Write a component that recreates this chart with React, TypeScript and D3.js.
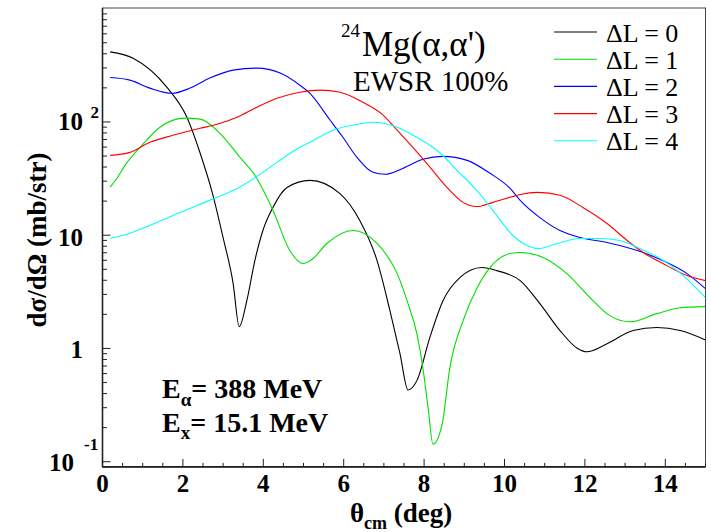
import React from "react";
import * as d3 from "d3";

// Angular distributions for 24Mg(α,α') at Eα = 388 MeV, Ex = 15.1 MeV
const thetaL0 = [0.19, 0.76, 1.6, 2.1, 2.43, 2.75, 3.0, 3.25, 3.4, 3.59, 3.79, 3.99, 4.24, 4.59, 5.16, 5.9, 6.4, 6.83, 7.15, 7.4, 7.6, 7.82, 8.14, 8.47, 8.89, 9.44, 9.81, 10.39, 10.88, 11.38, 11.8, 12.05, 12.55, 13.2, 13.79, 14.37, 15.0];
const sigmaL0 = [416, 366, 203, 110, 52.9, 22.4, 9.5, 3.74, 1.56, 2.64, 5.97, 11.0, 17.6, 26.4, 30.5, 23.4, 13.5, 5.97, 2.16, 0.9, 0.43, 0.52, 1.24, 2.64, 4.22, 5.18, 4.87, 3.97, 2.49, 1.44, 1.01, 0.935, 1.1, 1.44, 1.53, 1.44, 1.19];

const thetaL1 = [0.19, 0.36, 0.56, 0.98, 1.43, 2.05, 2.43, 2.92, 3.42, 3.79, 4.24, 4.66, 4.99, 5.21, 5.58, 6.23, 6.83, 7.33, 7.6, 7.82, 7.97, 8.1, 8.22, 8.45, 8.64, 8.97, 9.32, 9.64, 10.14, 10.39, 10.96, 11.55, 12.2, 12.62, 13.12, 13.79, 14.37, 15.0];
const sigmaL1 = [26.6, 31.8, 41.4, 62.2, 89.8, 108, 106, 79.4, 48.7, 33.8, 16.6, 7.33, 5.62, 6.1, 8.45, 11.0, 8.45, 4.58, 2.49, 1.35, 0.675, 0.299, 0.143, 0.216, 0.675, 1.76, 3.44, 5.18, 6.89, 7.03, 6.35, 4.58, 2.64, 1.95, 1.72, 2.03, 2.29, 2.34];

const thetaL2 = [0.19, 0.68, 1.18, 1.73, 2.18, 2.67, 3.25, 3.84, 4.42, 4.91, 5.16, 5.66, 5.98, 6.33, 6.73, 7.03, 7.47, 7.97, 8.47, 9.07, 9.64, 10.14, 10.39, 10.88, 11.38, 11.88, 12.55, 13.05, 13.45, 14.04, 14.54, 15.0];
const sigmaL2 = [247, 234, 199, 179, 199, 244, 287, 299, 270, 211, 179, 104, 73.2, 48.7, 35.9, 34.5, 38.9, 46.8, 49.7, 45.8, 35.2, 25.9, 20.3, 14.3, 11.0, 9.55, 8.62, 7.79, 7.03, 5.73, 4.58, 3.37];

const thetaL3 = [0.19, 0.68, 1.18, 1.75, 2.43, 2.85, 3.35, 3.84, 4.34, 4.91, 5.41, 5.91, 6.48, 6.98, 7.33, 7.72, 8.15, 8.57, 8.97, 9.31, 9.71, 10.14, 10.39, 10.83, 11.38, 11.95, 12.55, 13.05, 13.45, 13.94, 14.54, 15.0];
const sigmaL3 = [50.7, 53.9, 66.1, 76.2, 87.9, 95.4, 110, 135, 162, 183, 191, 183, 149, 115, 84.5, 59.7, 39.7, 26.4, 19.5, 17.9, 19.5, 21.6, 22.9, 23.9, 22.5, 17.6, 12.7, 8.98, 7.03, 5.62, 4.4, 3.97];

const thetaL4 = [0.19, 0.68, 1.18, 1.75, 2.35, 2.85, 3.35, 3.84, 4.34, 4.91, 5.16, 5.73, 6.33, 6.73, 7.33, 7.82, 8.32, 8.82, 9.31, 9.71, 10.21, 10.56, 10.83, 11.31, 11.88, 12.38, 12.87, 13.37, 13.87, 14.36, 15.0];
const sigmaL4 = [9.35, 10.4, 12.2, 14.9, 18.3, 21.6, 25.9, 33.0, 44.0, 59.7, 66.1, 84.5, 95.4, 99.4, 89.8, 73.2, 56.2, 37.4, 24.9, 16.6, 9.94, 8.11, 7.62, 8.45, 9.35, 9.35, 8.98, 7.62, 6.22, 4.68, 2.81];

const seriesNames = ["ΔL = 0", "ΔL = 1", "ΔL = 2", "ΔL = 3", "ΔL = 4"];
const seriesColors = ["#000000", "#00e000", "#0000ff", "#ff0000", "#00ffff"];
const seriesTheta = [thetaL0, thetaL1, thetaL2, thetaL3, thetaL4];
const seriesSigma = [sigmaL0, sigmaL1, sigmaL2, sigmaL3, sigmaL4];

const xTickValues = [0, 2, 4, 6, 8, 10, 12, 14];

const W = 711;
const H = 532;
const left = 102.5;
const right = 705.5;
const top = 8.7;
const bottom = 466.9;

const FAM = "Liberation Serif";

function T(props: any) {
  const { bold, children, ...rest } = props;
  return (
    <text
      {...rest}
      fontFamily={FAM}
      fontWeight={bold ? "bold" : "normal"}
      style={{ fontFamily: '"Liberation Serif"', fontWeight: bold ? 700 : 400 }}
    >
      {children}
    </text>
  );
}

export default function App() {
  const x = d3.scaleLinear().domain([0, 15]).range([left, right]);
  const y = d3.scaleLog().domain([0.09, 1000]).range([bottom, top]);

  const line = d3
    .line<[number, number]>()
    .x((d) => x(d[0]))
    .y((d) => y(d[1]))
    .curve(d3.curveMonotoneX);

  // minor / major ticks on the log axis
  const yTicks: { v: number; major: boolean }[] = [];
  for (let e = -2; e <= 2; e++) {
    for (let m = 1; m <= 9; m++) {
      const v = m * Math.pow(10, e);
      if (v >= 0.09 && v <= 1000) yTicks.push({ v, major: m === 1 });
    }
  }
  const xTicks: { v: number; major: boolean }[] = [];
  for (let i = 0; i <= 30; i++) {
    xTicks.push({ v: i * 0.5, major: i % 4 === 0 });
  }

  const legendX0 = 554;
  const legendX1 = 597;
  const legendY0 = 32;
  const legendDy = 27.2;

  return (
    <svg width={W} height={H} style={{ position: "absolute", left: 0, top: 0, background: "#fff" }}>
      <defs>
        <clipPath id="plotArea">
          <rect x={left} y={top - 2} width={right - left} height={bottom - top + 2} />
        </clipPath>
      </defs>

      {/* frame */}
      <rect x={left} y={top - 0.7} width={right - left} height={bottom - top + 0.7} fill="none" stroke="#444" strokeWidth={1} />

      {/* curves */}
      <g clipPath="url(#plotArea)">
        {seriesTheta.map((th, i) => (
          <path
            key={i}
            d={line(th.map((t, j) => [t, seriesSigma[i][j]] as [number, number])) || ""}
            fill="none"
            stroke={seriesColors[i]}
            strokeWidth={1.1}
          />
        ))}
      </g>

      {/* axes */}
      <line x1={left} x2={left} y1={top - 0.7} y2={bottom} stroke="#222" strokeWidth={1.6} />
      <line x1={left} x2={right} y1={bottom} y2={bottom} stroke="#222" strokeWidth={1.6} />

      {yTicks.map((t, i) => (
        <line key={"yt" + i} x1={left} x2={left + (t.major ? 8 : 4.5)} y1={y(t.v)} y2={y(t.v)} stroke="#222" strokeWidth={1} />
      ))}
      {xTicks.map((t, i) => (
        <line key={"xt" + i} x1={x(t.v)} x2={x(t.v)} y1={bottom} y2={bottom - (t.major ? 8 : 4)} stroke="#222" strokeWidth={1} />
      ))}

      <g style={{ fontFamily: '"Liberation Serif"' }}>
        {/* x tick labels */}
        {xTickValues.map((v) => (
          <T key={"xl" + v} x={x(v)} y={492} textAnchor="middle" fontSize={25} bold>
            {String(v)}
          </T>
        ))}

        {/* y tick labels */}
        <T x={74} y={471} textAnchor="end" fontSize={25} bold>10</T>
        <T x={84} y={450} fontSize={17} bold>-1</T>
        <T x={83} y={357.5} textAnchor="end" fontSize={25} bold>1</T>
        <T x={83} y={245.5} textAnchor="end" fontSize={25} bold>10</T>
        <T x={83} y={130} textAnchor="end" fontSize={25} bold>10</T>
        <T x={90.5} y={118} fontSize={17} bold>2</T>

        {/* axis titles */}
        <T x={350} y={522} fontSize={27} bold>
          θ<tspan fontSize={18} dy={7}>cm</tspan>
          <tspan dy={-7}> (deg)</tspan>
        </T>
        <T transform="translate(46,240) rotate(-90)" textAnchor="middle" fontSize={27} bold>
          dσ/dΩ (mb/str)
        </T>

        {/* reaction label */}
        <T x={341} y={37} fontSize={19}>24</T>
        <T x={362} y={56} fontSize={35}>Mg(α,α')</T>
        <T x={353} y={91} fontSize={29}>EWSR 100%</T>

        {/* beam / excitation energy */}
        <T x={162} y={398} fontSize={28} bold>
          E<tspan fontSize={19} dy={8}>α</tspan>
          <tspan dy={-8}>= 388 MeV</tspan>
        </T>
        <T x={162} y={432} fontSize={28} bold>
          E<tspan fontSize={19} dy={7}>x</tspan>
          <tspan dy={-7}>= 15.1 MeV</tspan>
        </T>

        {/* legend */}
        {seriesNames.map((name, i) => (
          <g key={"lg" + i}>
            <line
              x1={legendX0}
              x2={legendX1}
              y1={legendY0 + i * legendDy}
              y2={legendY0 + i * legendDy}
              stroke={seriesColors[i]}
              strokeWidth={1.1}
            />
            <T x={606} y={legendY0 + i * legendDy + 9.5} fontSize={26}>
              {name}
            </T>
          </g>
        ))}
      </g>
    </svg>
  );
}
